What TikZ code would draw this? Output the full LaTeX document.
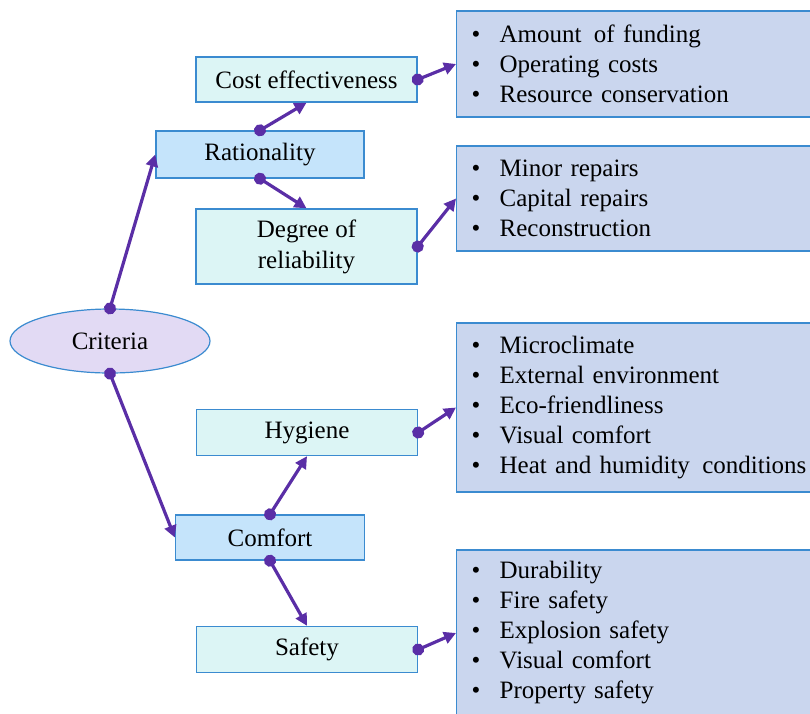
\documentclass[tikz,border=0pt]{standalone}
\usepackage{fontspec}
\setmainfont{Liberation Serif}
\usepackage{tikz}
\usepackage{xcolor}
\usetikzlibrary{arrows.meta,shapes.geometric}

\definecolor{linkpurple}{HTML}{5A2EA6}
\definecolor{edgeblue}{HTML}{3B8BD0}
\definecolor{subfill}{HTML}{DCF5F5}
\definecolor{mainfill}{HTML}{C5E4FB}
\definecolor{listfill}{HTML}{CAD6EE}
\definecolor{rootfill}{HTML}{E2DAF4}

\newcommand{\itm}[1]{\makebox[28pt][l]{\textbullet}#1}

\begin{document}
\begin{tikzpicture}[x=1pt,y=-1pt,
    every node/.style={font=\fontsize{25}{30}\selectfont},
    root/.style={ellipse,draw=edgeblue,line width=1.2pt,fill=rootfill,minimum width=200pt,minimum height=64pt,inner sep=0pt},
    mainbox/.style={rectangle,draw=edgeblue,line width=1.4pt,fill=mainfill,minimum height=46pt,inner sep=0pt},
    subbox/.style={rectangle,draw=edgeblue,line width=1.4pt,fill=subfill,minimum width=221pt,minimum height=46pt,inner sep=0pt,align=center},
    listbox/.style={rectangle,draw=edgeblue,line width=1.4pt,fill=listfill,anchor=west,minimum width=370pt,text width=340pt,inner xsep=11pt,inner ysep=0pt,align=left},
    link/.style={linkpurple,line width=3.2pt,shorten <=-6pt,{Circle[length=12pt]}-{Triangle[length=12pt,width=12pt]}}]
    \useasboundingbox (0,0) rectangle (810,713);

    % root and second level
    \node[root] (crit) at (110,341) {Criteria};
    \node[mainbox,minimum width=208pt,minimum height=47pt] (ration) at (260,154.5) {Rationality};
    \node[mainbox,minimum width=189pt,minimum height=45pt] (comfort) at (270,537.5) {Comfort};

    % third level
    \node[subbox,minimum height=45pt] (cost) at (306.5,79.5) {Cost effectiveness};
    \node[subbox,minimum height=75pt,font=\fontsize{25}{31}\selectfont] (relia) at (306.5,246.5) {Degree of\\reliability};
    \node[subbox] (hyg) at (307,432.5) {Hygiene};
    \node[subbox] (safety) at (307,649.5) {Safety};

    % lists
    \node[listbox,minimum height=106pt] (costlist) at (456,64) {\itm{Amount\hspace{4pt} of funding}\\\itm{Operating costs}\\\itm{Resource conservation}};
    \node[listbox,minimum height=105pt] (relialist) at (456,198.5) {\itm{Minor repairs}\\\itm{Capital repairs}\\\itm{Reconstruction}};
    \node[listbox,minimum height=169pt] (hyglist) at (456,407.5) {\itm{Microclimate}\\\itm{External environment}\\\itm{Eco-friendliness}\\\itm{Visual comfort}\\\itm{Heat and humidity\hspace{4pt} conditions}};
    \node[listbox,minimum height=166pt] (safelist) at (456,633) {\itm{Durability}\\\itm{Fire safety}\\\itm{Explosion safety}\\\itm{Visual comfort}\\\itm{Property safety}};

    % connectors
    \draw[link] (crit.north) -- (ration.west);
    \draw[link] (crit.south) -- (comfort.west);
    \draw[link] (ration.north) -- (cost.south);
    \draw[link] (ration.south) -- (relia.north);
    \draw[link] (comfort.north) -- (hyg.south);
    \draw[link] (comfort.south) -- (safety.north);
    \draw[link] (cost.east) -- (costlist.west);
    \draw[link] (relia.east) -- (relialist.west);
    \draw[link] (hyg.east) -- (hyglist.west);
    \draw[link] (safety.east) -- (safelist.west);
\end{tikzpicture}
\end{document}
